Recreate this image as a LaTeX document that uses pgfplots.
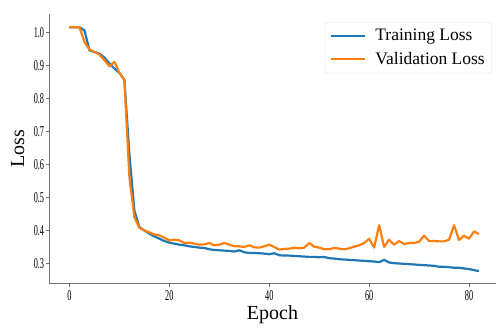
\documentclass[border=0pt]{standalone}
\usepackage{pgfplots}
\pgfplotsset{compat=1.18}
\usepackage{fontspec}
\setmainfont{Liberation Serif}
\definecolor{mplblue}{HTML}{1F77B4}
\definecolor{mplorange}{HTML}{FF7F0E}
\begin{document}
\begin{tikzpicture}
\useasboundingbox (-49pt,-44pt) rectangle (448pt,283pt);
\begin{axis}[
  at={(0pt,0pt)}, anchor=south west,
  scale only axis,
  width=447pt, height=269pt,
  xmin=-4.1, xmax=85.4, ymin=0.241, ymax=1.055,
  axis lines*=left,
  axis line style={draw=black!55, line width=0.9pt},
  xtick={0,20,40,60,80},
  ytick={0.3,0.4,0.5,0.6,0.7,0.8,0.9,1.0},
  yticklabel style={/pgf/number format/fixed, /pgf/number format/fixed zerofill, /pgf/number format/precision=1, xshift=1pt},
  /pgf/number format/assume math mode=true,
  tick align=outside,
  tick style={draw=black!55, line width=0.6pt},
  major tick length=3.5pt,
  ticklabel style={font=\fontsize{15}{16}\selectfont, xscale=0.55},
  xticklabel style={yshift=0pt},
  xlabel={Epoch}, ylabel={Loss},
  label style={font=\fontsize{20}{22}\selectfont},
  xlabel style={yshift=1pt},
  ylabel style={yshift=4pt},
  legend style={at={(0.991,0.970)}, anchor=north east, font=\fontsize{17.5}{21}\selectfont,
    draw=black!12, rounded corners=2.5pt, inner xsep=5pt, inner ysep=5pt, row sep=6pt},
  legend cell align=left,
]
\addlegendimage{legend image code/.code={\draw[mplblue, line width=1.4pt] (0pt,0pt) -- (34pt,0pt);}}
\addlegendentry{\hspace{8pt}Training Loss}
\addlegendimage{legend image code/.code={\draw[mplorange, line width=1.4pt] (0pt,0pt) -- (34pt,0pt);}}
\addlegendentry{\hspace{8pt}Validation Loss}
\addplot[mplblue, line width=2.2pt, line join=round, forget plot] coordinates {
(0,1.015)(1,1.015)(2,1.015)(3,1.005)(4,0.945)(5,0.940)(6,0.935)(7,0.923)(8,0.905)(9,0.890)
(10,0.877)(11,0.855)(12,0.63)(13,0.46)(14,0.410)(15,0.400)(16,0.390)(17,0.382)(18,0.375)(19,0.368)
(20,0.363)(21,0.360)(22,0.357)(23,0.355)(24,0.352)(25,0.350)(26,0.348)(27,0.347)(28,0.343)(29,0.341)
(30,0.340)(31,0.339)(32,0.338)(33,0.336)(34,0.340)(35,0.334)(36,0.332)(37,0.332)(38,0.331)(39,0.330)
(40,0.328)(41,0.331)(42,0.325)(43,0.324)(44,0.324)(45,0.323)(46,0.322)(47,0.321)(48,0.320)(49,0.320)
(50,0.319)(51,0.320)(52,0.316)(53,0.315)(54,0.313)(55,0.312)(56,0.311)(57,0.310)(58,0.309)(59,0.308)
(60,0.307)(61,0.306)(62,0.304)(63,0.311)(64,0.303)(65,0.301)(66,0.300)(67,0.299)(68,0.298)(69,0.297)
(70,0.296)(71,0.295)(72,0.294)(73,0.293)(74,0.290)(75,0.290)(76,0.289)(77,0.287)(78,0.287)(79,0.285)
(80,0.283)(81,0.280)(82,0.277)
};
\addplot[mplorange, line width=2.2pt, line join=round, forget plot] coordinates {
(0,1.015)(1,1.015)(2,1.015)(3,0.970)(4,0.948)(5,0.940)(6,0.932)(7,0.915)(8,0.897)(9,0.910)
(10,0.877)(11,0.855)(12,0.56)(13,0.440)(14,0.408)(15,0.400)(16,0.394)(17,0.388)(18,0.385)(19,0.378)
(20,0.370)(21,0.372)(22,0.370)(23,0.362)(24,0.363)(25,0.360)(26,0.357)(27,0.358)(28,0.362)(29,0.355)
(30,0.357)(31,0.362)(32,0.357)(33,0.352)(34,0.352)(35,0.350)(36,0.355)(37,0.349)(38,0.348)(39,0.352)
(40,0.357)(41,0.350)(42,0.342)(43,0.344)(44,0.345)(45,0.348)(46,0.346)(47,0.348)(48,0.362)(49,0.351)
(50,0.348)(51,0.343)(52,0.343)(53,0.347)(54,0.345)(55,0.343)(56,0.346)(57,0.351)(58,0.355)(59,0.362)
(60,0.375)(61,0.348)(62,0.416)(63,0.350)(64,0.372)(65,0.357)(66,0.368)(67,0.359)(68,0.362)(69,0.362)
(70,0.366)(71,0.384)(72,0.368)(73,0.368)(74,0.367)(75,0.367)(76,0.372)(77,0.416)(78,0.371)(79,0.384)
(80,0.375)(81,0.397)(82,0.389)
};
\end{axis}
\end{tikzpicture}
\end{document}
